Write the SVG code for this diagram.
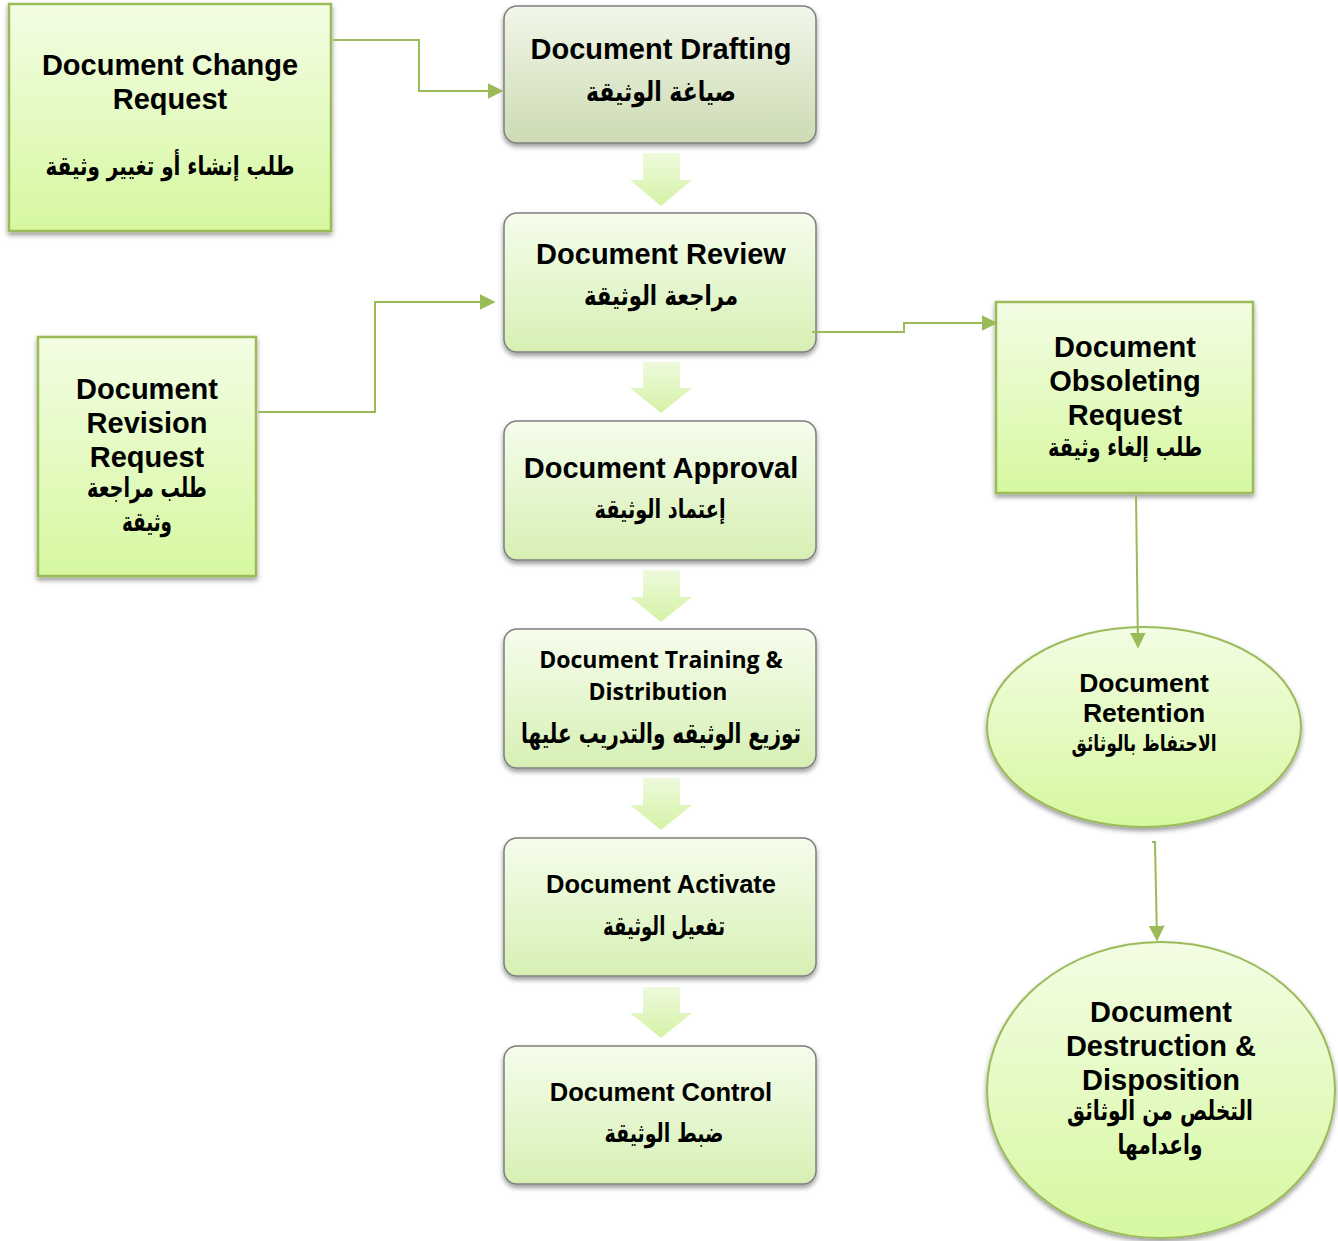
<svg xmlns="http://www.w3.org/2000/svg" width="1338" height="1241" viewBox="0 0 1338 1241">
<defs>
<linearGradient id="gSq" x1="0" y1="0" x2="0" y2="1"><stop offset="0" stop-color="#f3fde4"/><stop offset="1" stop-color="#d6f8a0"/></linearGradient>
<linearGradient id="gDraft" x1="0" y1="0" x2="0" y2="1"><stop offset="0" stop-color="#f1f6e8"/><stop offset="1" stop-color="#cddbb4"/></linearGradient>
<linearGradient id="gBox" x1="0" y1="0" x2="0" y2="1"><stop offset="0" stop-color="#f6fdec"/><stop offset="1" stop-color="#d6f0b4"/></linearGradient>
<linearGradient id="gArr" x1="0" y1="0" x2="0" y2="1"><stop offset="0" stop-color="#eefadc"/><stop offset="1" stop-color="#d4f2a6"/></linearGradient>
<filter id="sh" x="-10%" y="-10%" width="120%" height="125%"><feDropShadow dx="0" dy="3" stdDeviation="2.5" flood-color="#000" flood-opacity="0.4"/></filter>
<marker id="ah2" viewBox="0 0 10 10" refX="9" refY="5" markerWidth="16" markerHeight="16" markerUnits="userSpaceOnUse" orient="auto"><path d="M0,0 L10,5 L0,10 z" fill="#9bbb59"/></marker>
</defs>
<style>
.sq{fill:url(#gSq);stroke:#9bbb59;stroke-width:2.5;filter:url(#sh)}
.rb{fill:url(#gBox);stroke:#7f7f7f;stroke-width:1.5;filter:url(#sh)}
.el{fill:url(#gSq);stroke:#9bbb59;stroke-width:2;filter:url(#sh)}
.ba{fill:url(#gArr)}
.t{font-family:"Liberation Sans",Arial,sans-serif;font-weight:bold;fill:#000;text-anchor:middle}
.ar{font-family:"DejaVu Sans","Liberation Sans",sans-serif;font-weight:bold;fill:#000;text-anchor:middle}
.cb{font-family:"Open Sans","Liberation Sans",sans-serif;font-weight:bold;fill:#000;text-anchor:middle}
.cn{fill:none;stroke:#9bbb59;stroke-width:2}
</style>

<g id="change-request">
<rect class="sq" x="9" y="4" width="322" height="227"/>
<text class="t" x="170" y="75" font-size="29">Document Change</text>
<text class="t" x="170" y="109" font-size="29">Request</text>
<text class="ar" x="170" y="175" font-size="26" direction="rtl" textLength="249" lengthAdjust="spacingAndGlyphs">طلب إنشاء أو تغيير وثيقة</text>
</g>

<g id="drafting">
<rect class="rb" x="504" y="6" width="312" height="137" rx="13" style="fill:url(#gDraft)"/>
<text class="t" x="661" y="59" font-size="29">Document Drafting</text>
<text class="ar" x="661" y="101" font-size="27" direction="rtl" textLength="150" lengthAdjust="spacingAndGlyphs">صياغة الوثيقة</text>
</g>

<g id="review">
<rect class="rb" x="504" y="213" width="312" height="139" rx="13"/>
<text class="t" x="661" y="264" font-size="29">Document Review</text>
<text class="ar" x="661" y="305" font-size="27" direction="rtl" textLength="154" lengthAdjust="spacingAndGlyphs">مراجعة الوثيقة</text>
</g>

<g id="approval">
<rect class="rb" x="504" y="421" width="312" height="139" rx="13"/>
<text class="t" x="661" y="478" font-size="29">Document Approval</text>
<text class="ar" x="660" y="518" font-size="26" direction="rtl" textLength="131" lengthAdjust="spacingAndGlyphs">إعتماد الوثيقة</text>
</g>

<g id="training">
<rect class="rb" x="504" y="629" width="312" height="139" rx="13"/>
<text class="cb" x="661" y="668" font-size="23">Document Training &amp;</text>
<text class="cb" x="658" y="700" font-size="23">Distribution</text>
<text class="ar" x="661" y="743" font-size="28" direction="rtl" textLength="280" lengthAdjust="spacingAndGlyphs">توزيع الوثيقه والتدريب عليها</text>
</g>

<g id="activate">
<rect class="rb" x="504" y="838" width="312" height="138" rx="13"/>
<text class="t" x="661" y="893" font-size="25.5">Document Activate</text>
<text class="ar" x="664" y="935" font-size="26" direction="rtl" textLength="122" lengthAdjust="spacingAndGlyphs">تفعيل الوثيقة</text>
</g>

<g id="control">
<rect class="rb" x="504" y="1046" width="312" height="138" rx="13"/>
<text class="t" x="661" y="1101" font-size="25.5">Document Control</text>
<text class="ar" x="664" y="1142" font-size="26" direction="rtl" textLength="119" lengthAdjust="spacingAndGlyphs">ضبط الوثيقة</text>
</g>

<g id="revision-request">
<rect class="sq" x="38" y="337" width="218" height="239"/>
<text class="t" x="147" y="399" font-size="29">Document</text>
<text class="t" x="147" y="433" font-size="29">Revision</text>
<text class="t" x="147" y="467" font-size="29">Request</text>
<text class="ar" x="147" y="497" font-size="27" direction="rtl" textLength="120" lengthAdjust="spacingAndGlyphs">طلب مراجعة</text>
<text class="ar" x="147" y="531" font-size="27" direction="rtl" textLength="50" lengthAdjust="spacingAndGlyphs">وثيقة</text>
</g>

<g id="obsoleting-request">
<rect class="sq" x="996" y="302" width="257" height="191"/>
<text class="t" x="1125" y="357" font-size="29">Document</text>
<text class="t" x="1125" y="391" font-size="29">Obsoleting</text>
<text class="t" x="1125" y="425" font-size="29">Request</text>
<text class="ar" x="1125" y="456" font-size="26" direction="rtl" textLength="154" lengthAdjust="spacingAndGlyphs">طلب إلغاء وثيقة</text>
</g>

<g id="retention">
<ellipse class="el" cx="1144" cy="727" rx="157" ry="100"/>
<text class="t" x="1144" y="692" font-size="26.5">Document</text>
<text class="t" x="1144" y="722" font-size="26.5">Retention</text>
<text class="ar" x="1144" y="751" font-size="23" direction="rtl" textLength="145" lengthAdjust="spacingAndGlyphs">الاحتفاظ بالوثائق</text>
</g>

<g id="destruction">
<ellipse class="el" cx="1161" cy="1090" rx="174" ry="148"/>
<text class="t" x="1161" y="1022" font-size="29">Document</text>
<text class="t" x="1161" y="1056" font-size="29">Destruction &amp;</text>
<text class="t" x="1161" y="1090" font-size="29">Disposition</text>
<text class="ar" x="1160" y="1120" font-size="27" direction="rtl" textLength="186" lengthAdjust="spacingAndGlyphs">التخلص من الوثائق</text>
<text class="ar" x="1160" y="1154" font-size="27" direction="rtl" textLength="85" lengthAdjust="spacingAndGlyphs">واعدامها</text>
</g>

<g id="connectors">
<path class="cn" d="M333,40 H419 V91 H502" marker-end="url(#ah2)"/>
<path class="cn" d="M258,412 H375 V302 H494" marker-end="url(#ah2)"/>
<path class="cn" d="M812,332 H904 V323 H996" marker-end="url(#ah2)"/>
<path class="cn" d="M1136,495 L1138,647" marker-end="url(#ah2)"/>
<path class="cn" d="M1152,842 H1155 L1157,940" marker-end="url(#ah2)"/>
<path class="ba" d="M643,153 H680 V180 H692 L661,206 L630,180 H643 Z"/>
<path class="ba" d="M643,362 H680 V388 H692 L661,413 L630,388 H643 Z"/>
<path class="ba" d="M643,570 H680 V597 H692 L661,622 L630,597 H643 Z"/>
<path class="ba" d="M643,778 H680 V805 H692 L661,830 L630,805 H643 Z"/>
<path class="ba" d="M643,987 H680 V1013 H692 L661,1038 L630,1013 H643 Z"/>
</g>
</svg>
